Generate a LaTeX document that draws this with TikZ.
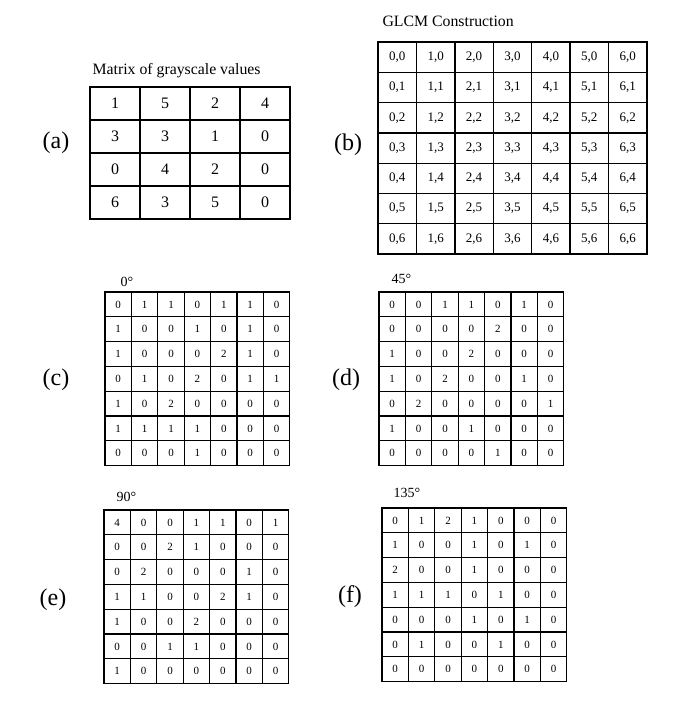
\documentclass[tikz,border=0pt]{standalone}
\usepackage{fontspec}
\setmainfont{Liberation Serif}
\usetikzlibrary{positioning}

\begin{document}
\begin{tikzpicture}[x=1pt,y=-1pt,node distance=4pt,
  grid cell/.style={draw,line width=1.3pt,inner sep=0pt},
  gray cell/.style={grid cell,minimum width=50pt,minimum height=33pt,font=\fontsize{16}{18}\selectfont},
  pair cell/.style={grid cell,minimum width=38.4pt,minimum height=30.3pt,font=\fontsize{13}{15}\selectfont},
  count cell/.style={grid cell,minimum width=26.4pt,minimum height=24.8pt,font=\fontsize{11}{13}\selectfont},
  panel label/.style={font=\fontsize{24}{27}\selectfont},
  caption/.style={inner sep=0pt,font=\fontsize{15.8}{18}\selectfont},
  angle title/.style={inner sep=0pt,font=\fontsize{14}{16}\selectfont}]

  \path[fill=white] (0,0) rectangle (685,721);

  % (a) grayscale values
  \foreach \vals [count=\r] in {{1,5,2,4},{3,3,1,0},{0,4,2,0},{6,3,5,0}}
    \foreach \v [count=\c] in \vals
      \node[gray cell] (a-\r-\c) at ({65+50*\c},{70.5+33*\r}) {\v};
  \node[caption] (a title) [above right=8pt and 3pt of a-1-1.north west] {Matrix of grayscale values};
  \node[panel label] (a label) at (56,143) {(a)};

  % (b) glcm construction
  \foreach \i in {0,...,6}
    \foreach \j in {0,...,6}
      \node[pair cell] (b-\j-\i) at ({397.2+38.43*\i},{57.15+30.3*\j}) {\i,\j};
  \node[caption] (b title) [above right=15pt and 5pt of b-0-0.north west] {GLCM Construction};
  \node[panel label] (b label) at (348,145) {(b)};

  % (c) 0 degrees
  \foreach \vals [count=\r] in {{0,1,1,0,1,1,0},{1,0,0,1,0,1,0},{1,0,0,0,2,1,0},
      {0,1,0,2,0,1,1},{1,0,2,0,0,0,0},{1,1,1,1,0,0,0},{0,0,0,1,0,0,0}}
    \foreach \v [count=\c] in \vals
      \node[count cell] (c-\r-\c) at ({91.8+26.4*\c},{279.6+24.8*\r}) {\v};
  \node[angle title] (c title) [above right=5pt and 16pt of c-1-1.north west] {0°};
  \node[panel label] (c label) at (56,380) {(c)};

  % (d) 45 degrees
  \foreach \vals [count=\r] in {{0,0,1,1,0,1,0},{0,0,0,0,2,0,0},{1,0,0,2,0,0,0},
      {1,0,2,0,0,1,0},{0,2,0,0,0,0,1},{1,0,0,1,0,0,0},{0,0,0,0,1,0,0}}
    \foreach \v [count=\c] in \vals
      \node[count cell] (d-\r-\c) at ({365.8+26.4*\c},{279.6+24.8*\r}) {\v};
  \node[angle title] (d title) [above right=8pt and 13pt of d-1-1.north west] {45°};
  \node[panel label] (d label) at (346,380) {(d)};

  % (e) 90 degrees
  \foreach \vals [count=\r] in {{4,0,0,1,1,0,1},{0,0,2,1,0,0,0},{0,2,0,0,0,1,0},
      {1,1,0,0,2,1,0},{1,0,0,2,0,0,0},{0,0,1,1,0,0,0},{1,0,0,0,0,0,0}}
    \foreach \v [count=\c] in \vals
      \node[count cell] (e-\r-\c) at ({90.8+26.4*\c},{497.6+24.8*\r}) {\v};
  \node[angle title] (e title) [above right=8pt and 13pt of e-1-1.north west] {90°};
  \node[panel label] (e label) at (53,600) {(e)};

  % (f) 135 degrees
  \foreach \vals [count=\r] in {{0,1,2,1,0,0,0},{1,0,0,1,0,1,0},{2,0,0,1,0,0,0},
      {1,1,1,0,1,0,0},{0,0,0,1,0,1,0},{0,1,0,0,1,0,0},{0,0,0,0,0,0,0}}
    \foreach \v [count=\c] in \vals
      \node[count cell] (f-\r-\c) at ({368.8+26.4*\c},{495.6+24.8*\r}) {\v};
  \node[angle title] (f title) [above right=10pt and 12pt of f-1-1.north west] {135°};
  \node[panel label] (f label) at (350,597) {(f)};

\end{tikzpicture}
\end{document}
